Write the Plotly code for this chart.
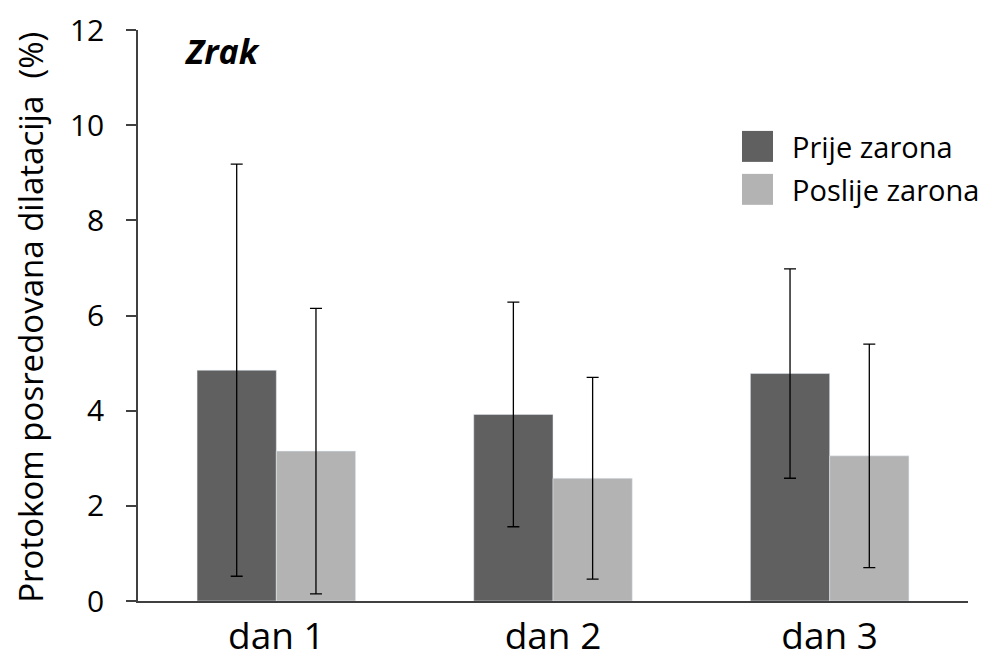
import plotly.graph_objects as go

categories = ["dan 1", "dan 2", "dan 3"]
prije = [4.85, 3.92, 4.78]
prije_err = [4.33, 2.36, 2.2]
poslije = [3.15, 2.58, 3.05]
poslije_err = [3.0, 2.12, 2.35]
series_names = ["Prije zarona", "Poslije zarona"]
y_ticks = [0, 2, 4, 6, 8, 10, 12]

dark = "#606060"
light = "#b3b3b3"
font = "Open Sans"

fig = go.Figure()
fig.add_trace(go.Bar(x=categories, y=prije, name=series_names[0], marker_color=dark,
                     error_y=dict(type="data", array=prije_err, visible=True, color="black",
                                  thickness=1.3, width=6)))
fig.add_trace(go.Bar(x=categories, y=poslije, name=series_names[1], marker_color=light,
                     error_y=dict(type="data", array=poslije_err, visible=True, color="black",
                                  thickness=1.3, width=6)))

OFF = 8  # page body margin
W, H = 984, 662
L, R, T, B = 138 - OFF, 984 - 968 + OFF, 30 - OFF, 662 - 601.5 + OFF
pw = W - L - R
ph = H - T - B

def px(x):
    return (x - OFF - L) / pw

def py(y):
    return (H - B - (y - OFF)) / ph

shapes = []
annotations = []
# legend
for i, (nm, col) in enumerate(zip(series_names, [dark, light])):
    y0 = 131 + i * 43
    shapes.append(dict(type="rect", xref="paper", yref="paper",
                       x0=px(742), x1=px(773), y0=py(y0 + 31), y1=py(y0),
                       fillcolor=col, line=dict(width=0)))
    annotations.append(dict(xref="paper", yref="paper", x=px(790), y=py(y0 + 16),
                            text=nm, showarrow=False, xanchor="left", yanchor="middle",
                            font=dict(family=font, size=29, color="black")))

annotations.append(dict(xref="paper", yref="paper", x=px(182), y=py(51),
                        text="<b><i>Zrak</i></b>", showarrow=False, xanchor="left",
                        yanchor="middle", font=dict(family=font, size=34, color="black")))
annotations.append(dict(xref="paper", yref="paper", x=px(31), y=py(318),
                        text="Protokom posredovana dilatacija\u00a0\u00a0(%)", showarrow=False,
                        textangle=-90, xanchor="center", yanchor="middle",
                        font=dict(family=font, size=33, color="black")))

fig.update_layout(
    width=W, height=H,
    margin=dict(l=L, r=R, t=T, b=B, autoexpand=False),
    plot_bgcolor="white", paper_bgcolor="white",
    barmode="group", bargap=0.427, bargroupgap=0,
    showlegend=False,
    shapes=shapes, annotations=annotations,
    font=dict(family=font, color="black"),
)
fig.update_xaxes(range=[-0.5, 2.5], showline=True, linecolor="#404040", linewidth=1.5,
                 ticks="", showgrid=False, tickfont=dict(size=37, family=font), ticklabelstandoff=2)
fig.update_yaxes(range=[0, 12], tickvals=y_ticks, showline=True, linecolor="#404040",
                 linewidth=1.5, ticks="outside", ticklen=10, tickcolor="#404040", tickwidth=1.5,
                 showgrid=False, zeroline=False, tickfont=dict(size=30, family=font),
                 ticklabelstandoff=16)

fig.write_html("out.html")
